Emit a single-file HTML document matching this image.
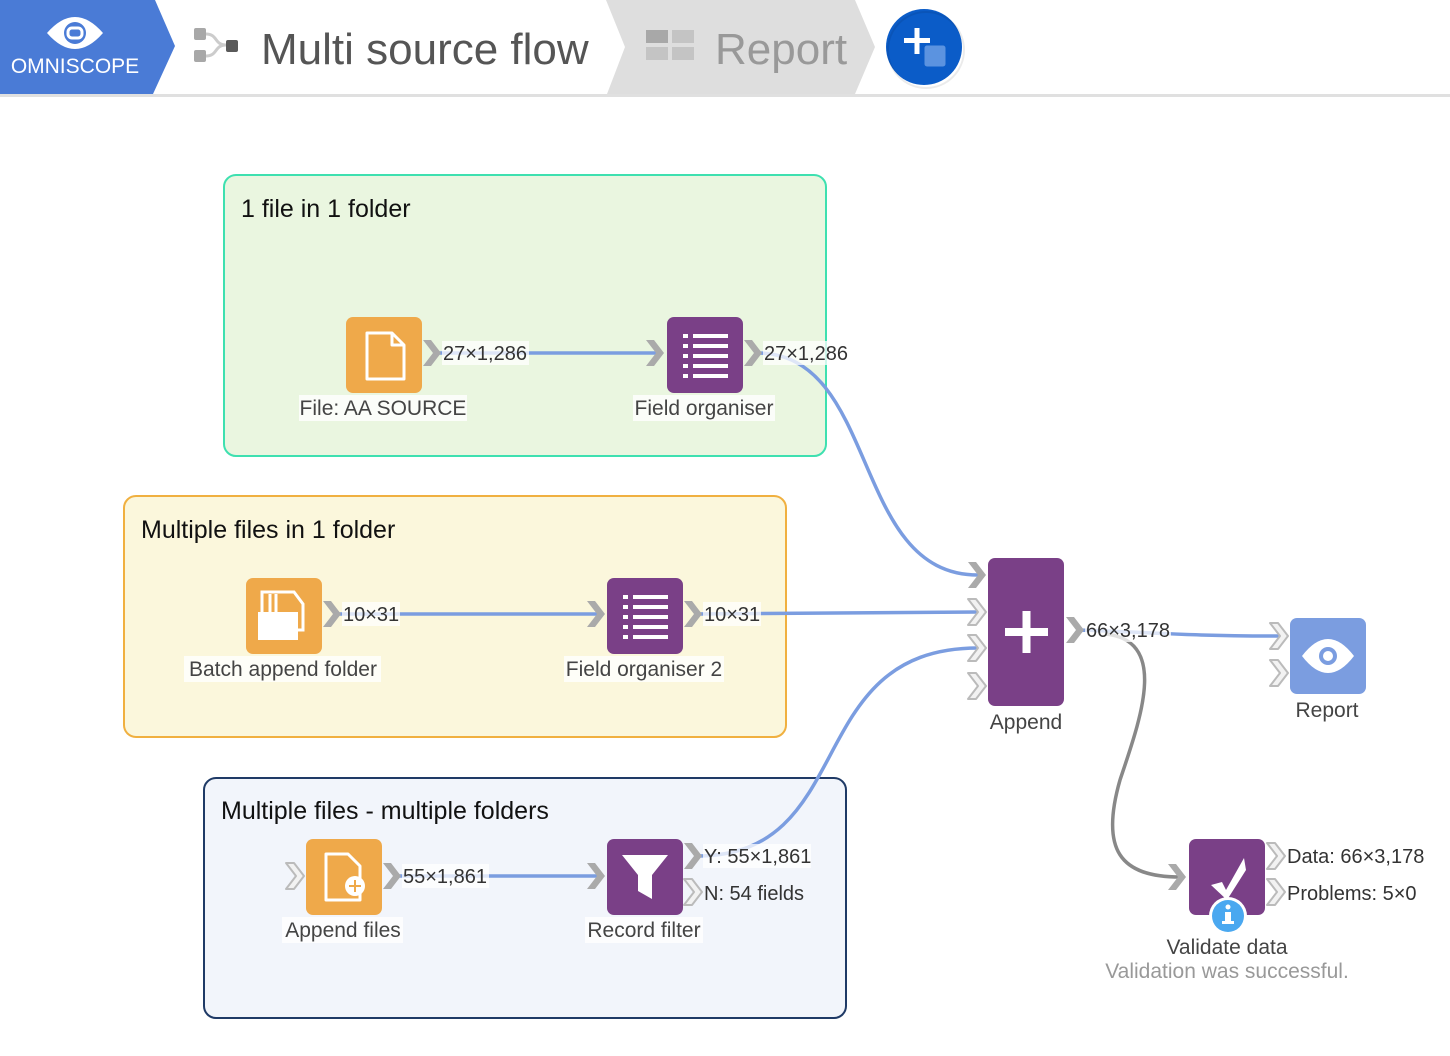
<!DOCTYPE html>
<html><head><meta charset="utf-8"><style>
html,body{margin:0;padding:0;background:#fff;}
svg{display:block;font-family:"Liberation Sans",sans-serif;}
</style></head><body>
<svg width="1450" height="1056" viewBox="0 0 1450 1056" xmlns="http://www.w3.org/2000/svg">
<defs>
<g id="chs"><polygon points="0,-13 8,-13 18,0 8,13 0,13 10,0" fill="#aaa"/></g>
<g id="cho"><polygon points="0,-13 8,-13 18,0 8,13 0,13 10,0" fill="#f2f2f2" stroke="#bbb" stroke-width="2" stroke-linejoin="round"/></g>
</defs>
<!-- header -->
<rect x="0" y="0" width="1450" height="95" fill="#fff"/>
<rect x="0" y="94" width="1450" height="3" fill="#e0e0e0"/>
<polygon points="606,0 855,0 875,47 855,94 607,94 625,47" fill="#dedede"/>
<polygon points="0,0 155,0 175,46 153,94 0,94" fill="#4a7bd6"/>
<g transform="translate(75,33)">
<path d="M-28,0 Q-14,-16 0,-16 Q14,-16 28,0 Q14,16 0,16 Q-14,16 -28,0Z" fill="#fff"/>
<circle r="11" fill="#4a7bd6"/>
<rect x="-7" y="-5" width="14" height="10" rx="4" fill="none" stroke="#fff" stroke-width="3"/>
</g>
<text x="75" y="73" text-anchor="middle" font-size="21" fill="#fff">OMNISCOPE</text>
<rect x="194" y="28" width="12" height="12" rx="2" fill="#a8a8a8"/>
<rect x="194" y="50" width="12" height="12" rx="2" fill="#a8a8a8"/>
<path d="M206,34 C218,34 214,45 226,45 M206,56 C218,56 214,45 226,45" stroke="#ccc" stroke-width="3" fill="none"/>
<rect x="226" y="40" width="12" height="12" rx="2" fill="#5a5a5a"/>
<text x="261" y="64" font-size="44" fill="#555">Multi source flow</text>
<rect x="646" y="30" width="22" height="13" fill="#a8a8a8"/><rect x="672" y="30" width="22" height="13" fill="#c4c4c4"/>
<rect x="646" y="47" width="22" height="13" fill="#c4c4c4"/><rect x="672" y="47" width="22" height="13" fill="#c4c4c4"/>
<text x="715" y="64" font-size="44" fill="#999">Report</text>
<circle cx="924" cy="47" r="38" fill="#0b5cc8"/>
<circle cx="926" cy="50" r="38" fill="none" stroke="rgba(0,0,0,0.08)" stroke-width="2"/>
<rect x="904" y="38" width="26" height="5" fill="#fff"/><rect x="914.5" y="28" width="5" height="26" fill="#fff"/>
<rect x="924" y="45" width="22" height="22" rx="3" fill="#5b93e0" stroke="#0b5cc8" stroke-width="1"/>

<!-- groups -->
<rect x="224" y="175" width="602" height="281" rx="12" fill="#eaf6e0" stroke="#3ee0b0" stroke-width="2"/>
<text x="241" y="217" font-size="25" fill="#111">1 file in 1 folder</text>
<rect x="124" y="496" width="662" height="241" rx="12" fill="#fbf7dc" stroke="#f0b040" stroke-width="2"/>
<text x="141" y="538" font-size="25" fill="#111">Multiple files in 1 folder</text>
<rect x="204" y="778" width="642" height="240" rx="12" fill="#f2f5fb" stroke="#1f3a66" stroke-width="2"/>
<text x="221" y="819" font-size="25" fill="#111">Multiple files - multiple folders</text>

<!-- connectors -->
<g fill="none" stroke="#7b9de0" stroke-width="3.5">
<path d="M436,353 L660,353"/>
<path d="M757,353 C880,353 850,575 978,575"/>
<path d="M336,614 L600,614"/>
<path d="M697,614 L978,612"/>
<path d="M396,876 L600,876"/>
<path d="M697,856 C860,856 800,648 978,648"/>
<path d="M1078,630 C1150,632 1180,636 1280,636"/>
</g>
<path d="M1105,634 C1170,640 1140,720 1120,780 C1100,850 1120,877 1180,877" fill="none" stroke="#888" stroke-width="3.5"/>

<!-- nodes -->
<rect x="346" y="317" width="76" height="76" rx="7" fill="#efa94a"/>
<path d="M367,333 L392,333 L404,345 L404,379 L367,379Z M392,333 L392,345 L404,345" fill="none" stroke="#fff" stroke-width="3" stroke-linejoin="round"/>
<rect x="667" y="317" width="76" height="76" rx="7" fill="#7a4087"/>
<g fill="#fff"><rect x="683" y="334" width="5" height="4"/><rect x="693" y="334" width="35" height="4"/><rect x="683" y="344" width="5" height="4"/><rect x="693" y="344" width="35" height="4"/><rect x="683" y="354" width="5" height="4"/><rect x="693" y="354" width="35" height="4"/><rect x="683" y="364" width="5" height="4"/><rect x="693" y="364" width="35" height="4"/><rect x="683" y="374" width="5" height="4"/><rect x="693" y="374" width="35" height="4"/></g>

<rect x="246" y="578" width="76" height="76" rx="7" fill="#efa94a"/>
<path d="M262,592 L294,592 L303,604 L303,630 L262,630Z" fill="none" stroke="#fff" stroke-width="3"/>
<path d="M270,594 L270,620 M276,594 L276,620" stroke="#fff" stroke-width="3"/>
<rect x="258" y="612" width="40" height="28" fill="#fff"/>
<rect x="607" y="578" width="76" height="76" rx="7" fill="#7a4087"/>
<g fill="#fff"><rect x="623" y="595" width="5" height="4"/><rect x="633" y="595" width="35" height="4"/><rect x="623" y="605" width="5" height="4"/><rect x="633" y="605" width="35" height="4"/><rect x="623" y="615" width="5" height="4"/><rect x="633" y="615" width="35" height="4"/><rect x="623" y="625" width="5" height="4"/><rect x="633" y="625" width="35" height="4"/><rect x="623" y="635" width="5" height="4"/><rect x="633" y="635" width="35" height="4"/></g>

<rect x="306" y="839" width="76" height="76" rx="7" fill="#efa94a"/>
<path d="M326,854 L348,854 L360,866 L360,900 L326,900Z" fill="none" stroke="#fff" stroke-width="3" stroke-linejoin="round"/>
<circle cx="355" cy="886" r="10" fill="#fff"/>
<path d="M349,886 L361,886 M355,880 L355,892" stroke="#efa94a" stroke-width="2"/>
<rect x="607" y="839" width="76" height="76" rx="7" fill="#7a4087"/>
<path d="M622,855 L668,855 L652,875 L652,899 L638,891 L638,875Z" fill="#fff"/>

<rect x="988" y="558" width="76" height="148" rx="7" fill="#7a4087"/>
<rect x="1005" y="628" width="43" height="8" fill="#fff"/><rect x="1022.5" y="611" width="8" height="42" fill="#fff"/>

<rect x="1290" y="618" width="76" height="76" rx="7" fill="#7b9de0"/>
<path d="M1302,656 Q1315,639 1328,639 Q1341,639 1354,656 Q1341,673 1328,673 Q1315,673 1302,656Z" fill="#fff"/>
<circle cx="1328" cy="656" r="9" fill="#7b9de0"/><circle cx="1328" cy="656" r="5" fill="#fff"/>

<rect x="1189" y="839" width="76" height="76" rx="7" fill="#7a4087"/>
<path d="M1211,885 L1222,882 L1226,890 L1244,858 L1246,870 L1227,900Z" fill="#fff"/>
<circle cx="1228" cy="916" r="19" fill="#fff"/>
<circle cx="1228" cy="916" r="16" fill="#4aa8f0"/>
<circle cx="1228" cy="907" r="2.5" fill="#fff"/><rect x="1225" y="912" width="6" height="11" fill="#fff"/><rect x="1222" y="921" width="12" height="3" fill="#fff"/>

<!-- chevrons -->
<use href="#chs" x="423" y="353"/><use href="#chs" x="646" y="353"/><use href="#chs" x="744" y="353"/>
<use href="#chs" x="323" y="614"/><use href="#chs" x="587" y="614"/><use href="#chs" x="684" y="614"/>
<use href="#cho" x="286" y="876"/><use href="#chs" x="383" y="876"/><use href="#chs" x="587" y="876"/>
<use href="#chs" x="684" y="856"/><use href="#cho" x="684" y="892"/>
<use href="#chs" x="968" y="575"/><use href="#cho" x="968" y="612"/><use href="#cho" x="968" y="648"/><use href="#cho" x="968" y="686"/>
<use href="#chs" x="1066" y="630"/>
<use href="#cho" x="1270" y="636"/><use href="#cho" x="1270" y="673"/>
<use href="#chs" x="1168" y="877"/>
<use href="#cho" x="1267" y="856"/><use href="#cho" x="1267" y="892"/>

<!-- labels -->
<g font-size="20" fill="#333">
<rect x="442" y="341" width="87" height="24" fill="#fff" opacity="0.75"/><text x="443" y="360">27×1,286</text>
<rect x="763" y="341" width="87" height="24" fill="#fff" opacity="0.75"/><text x="764" y="360">27×1,286</text>
<rect x="342" y="602" width="58" height="24" fill="#fff" opacity="0.75"/><text x="343" y="621">10×31</text>
<rect x="703" y="602" width="58" height="24" fill="#fff" opacity="0.75"/><text x="704" y="621">10×31</text>
<rect x="402" y="864" width="87" height="24" fill="#fff" opacity="0.75"/><text x="403" y="883">55×1,861</text>
<rect x="703" y="844" width="108" height="24" fill="#fff" opacity="0.75"/><text x="704" y="863">Y: 55×1,861</text>
<text x="704" y="900">N: 54 fields</text>
<rect x="1085" y="618" width="86" height="24" fill="#fff" opacity="0.75"/><text x="1086" y="637">66×3,178</text>
<text x="1287" y="863">Data: 66×3,178</text>
<text x="1287" y="900">Problems: 5×0</text>
</g>
<g font-size="21" fill="#444" text-anchor="middle">
<rect x="299" y="395" width="168" height="26" fill="#fff" opacity="0.8"/><text x="383" y="415">File: AA SOURCE</text>
<rect x="633" y="395" width="142" height="26" fill="#fff" opacity="0.8"/><text x="704" y="415">Field organiser</text>
<rect x="184" y="656" width="197" height="26" fill="#fff" opacity="0.8"/><text x="283" y="676">Batch append folder</text>
<rect x="564" y="656" width="160" height="26" fill="#fff" opacity="0.8"/><text x="644" y="676">Field organiser 2</text>
<rect x="282" y="917" width="121" height="26" fill="#fff" opacity="0.8"/><text x="343" y="937">Append files</text>
<rect x="585" y="917" width="118" height="26" fill="#fff" opacity="0.8"/><text x="644" y="937">Record filter</text>
<text x="1026" y="729">Append</text>
<text x="1327" y="717">Report</text>
<text x="1227" y="954">Validate data</text>
<text x="1227" y="978" fill="#999">Validation was successful.</text>
</g>
</svg>
</body></html>
